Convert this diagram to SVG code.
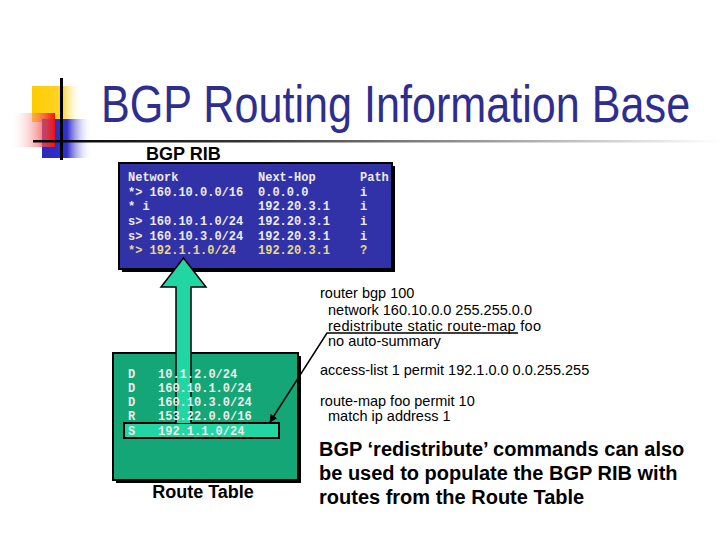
<svg xmlns="http://www.w3.org/2000/svg" width="720" height="540" viewBox="0 0 720 540">
<defs>
  <linearGradient id="gY" x1="0" y1="0" x2="1" y2="0">
    <stop offset="0" stop-color="#ffcc00"/>
    <stop offset="0.6" stop-color="#ffd22a"/>
    <stop offset="1" stop-color="#ffffff" stop-opacity="0"/>
  </linearGradient>
  <linearGradient id="gR" x1="0" y1="0" x2="1" y2="0">
    <stop offset="0" stop-color="#ffffff" stop-opacity="0"/>
    <stop offset="1" stop-color="#ee1111"/>
  </linearGradient>
  <linearGradient id="gB" x1="0" y1="0" x2="1" y2="0">
    <stop offset="0" stop-color="#2a2ac0"/>
    <stop offset="0.5" stop-color="#3030cc"/>
    <stop offset="1" stop-color="#ffffff" stop-opacity="0"/>
  </linearGradient>
  <linearGradient id="gL" x1="0" y1="0" x2="1" y2="0">
    <stop offset="0" stop-color="#000000"/>
    <stop offset="0.3" stop-color="#333333"/>
    <stop offset="1" stop-color="#ffffff"/>
  </linearGradient>
  <marker id="ah" viewBox="0 0 10 10" refX="9" refY="5" markerWidth="8" markerHeight="8" orient="auto" markerUnits="userSpaceOnUse">
    <path d="M0,0 L10,5 L0,10 z" fill="#000"/>
  </marker>
  <style>
    .mono { font-family: "Liberation Mono", "DejaVu Sans Mono", monospace; font-size: 12px; font-weight: bold; fill: #ececec; }
    .yel { fill: #e8d88a; }
    .code { font-family: "Liberation Sans", Arial, sans-serif; font-size: 14.5px; fill: #000; }
    .big { font-family: "Liberation Sans", Arial, sans-serif; font-size: 20px; font-weight: bold; fill: #000; }
    .lbl { font-family: "Liberation Sans", Arial, sans-serif; font-size: 18px; font-weight: bold; fill: #000; }
  </style>
</defs>
<rect width="720" height="540" fill="#ffffff"/>

<g id="decor">
  <rect x="32" y="86" width="50" height="36" fill="url(#gY)"/>
  <rect x="42" y="119" width="50" height="39" fill="url(#gB)"/>
  <rect x="10" y="113" width="45" height="34" fill="url(#gR)"/>
  <rect x="60" y="78" width="3" height="82" fill="#000"/>
  <rect x="33" y="140" width="687" height="2.5" fill="url(#gL)"/>
</g>

<g id="title">
  <text transform="translate(101,122) scale(0.83,1)" x="0" y="0" font-family="'Liberation Sans', Arial, sans-serif" font-size="52" fill="#2e2e8f">BGP Routing Information Base</text>
</g>

<g id="rib">
  <text x="146" y="160" font-family="'Liberation Sans', Arial, sans-serif" font-size="18" font-weight="bold">BGP RIB</text>
  <rect x="122" y="166" width="273" height="106" fill="#000"/>
  <rect x="119" y="163" width="273" height="106" fill="#3232a8" stroke="#000" stroke-width="2"/>
  <text class="mono" x="128" y="181">Network</text>
  <text class="mono" x="258" y="181">Next-Hop</text>
  <text class="mono" x="360" y="181">Path</text>
  <text class="mono" x="128" y="196">*&gt; 160.10.0.0/16</text>
  <text class="mono" x="258" y="196">0.0.0.0</text>
  <text class="mono" x="360" y="196">i</text>
  <text class="mono" x="128" y="210">* i</text>
  <text class="mono" x="258" y="210">192.20.3.1</text>
  <text class="mono" x="360" y="210">i</text>
  <text class="mono" x="128" y="225">s&gt; 160.10.1.0/24</text>
  <text class="mono" x="258" y="225">192.20.3.1</text>
  <text class="mono" x="360" y="225">i</text>
  <text class="mono" x="128" y="240">s&gt; 160.10.3.0/24</text>
  <text class="mono" x="258" y="240">192.20.3.1</text>
  <text class="mono" x="360" y="240">i</text>
  <text class="mono yel" x="128" y="254">*&gt; 192.1.1.0/24</text>
  <text class="mono yel" x="258" y="254">192.20.3.1</text>
  <text class="mono yel" x="360" y="254">?</text>
</g>

<g id="routetable">
  <rect x="116" y="356" width="185" height="127" fill="#000"/>
  <rect x="113" y="353" width="185" height="127" fill="#14a676" stroke="#000" stroke-width="2"/>
  <rect x="124" y="423" width="155" height="15" fill="#22d6a4" stroke="#000" stroke-width="2"/>
</g>

<g id="connectors">
  <path d="M176,423 L176,287 L161,287 L183.5,258 L206,287 L191,287 L191,423" fill="#22d6a4" stroke="#000" stroke-width="1.5"/>
  <path d="M518,333 L327,333 L270,422" fill="none" stroke="#000" stroke-width="1.5" marker-end="url(#ah)"/>
</g>

<g id="routetable-text">
  <text class="mono" x="128" y="378">D</text>
  <text class="mono" x="158" y="378">10.1.2.0/24</text>
  <text class="mono" x="128" y="392">D</text>
  <text class="mono" x="158" y="392">160.10.1.0/24</text>
  <text class="mono" x="128" y="406">D</text>
  <text class="mono" x="158" y="406">160.10.3.0/24</text>
  <text class="mono" x="128" y="420">R</text>
  <text class="mono" x="158" y="420">153.22.0.0/16</text>
  <text class="mono" x="128" y="435">S</text>
  <text class="mono" x="158" y="435">192.1.1.0/24</text>
  <text class="lbl" x="203" y="498" text-anchor="middle">Route Table</text>
</g>

<g id="config">
  <text class="code" x="320" y="298">router bgp 100</text>
  <text class="code" x="328" y="315">network 160.10.0.0 255.255.0.0</text>
  <text class="code" x="328" y="331" textLength="213" lengthAdjust="spacing">redistribute static route-map foo</text>
  <text class="code" x="328" y="346">no auto-summary</text>
  <text class="code" x="320" y="375">access-list 1 permit 192.1.0.0 0.0.255.255</text>
  <text class="code" x="320" y="406">route-map foo permit 10</text>
  <text class="code" x="328" y="421">match ip address 1</text>
</g>

<g id="note">
  <text class="big" x="319" y="456">BGP ‘redistribute’ commands can also</text>
  <text class="big" x="319" y="480">be used to populate the BGP RIB with</text>
  <text class="big" x="319" y="504">routes from the Route Table</text>
</g>
</svg>
